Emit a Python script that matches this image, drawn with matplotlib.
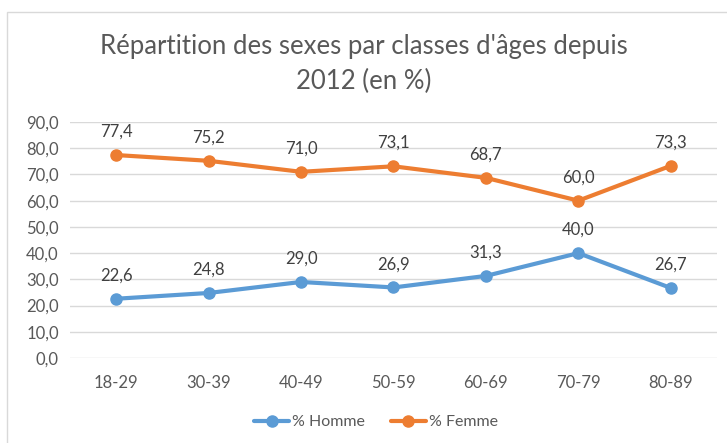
import numpy as np
import matplotlib.pyplot as plt
from matplotlib.patches import Rectangle

# Données
classes = ["18-29", "30-39", "40-49", "50-59", "60-69", "70-79", "80-89"]
homme = [22.6, 24.8, 29.0, 26.9, 31.3, 40.0, 26.7]
femme = [77.4, 75.2, 71.0, 73.1, 68.7, 60.0, 73.3]

plt.rcParams["font.family"] = ["Lato", "DejaVu Sans"]
W, H = 727, 443
fig = plt.figure(figsize=(W / 100, H / 100), dpi=100)

# cadre du graphique
fig.patches.append(Rectangle((7 / W, -0.1), 1.0, 1 - 12 / H + 0.1, transform=fig.transFigure,
                             fill=False, edgecolor="#d9d9d9", linewidth=1.0))

ax = fig.add_axes([70 / W, 1 - 358 / H, (717 - 70) / W, (358 - 122) / H])
x = np.arange(len(classes))
bleu = "#5b9bd5"
orange = "#ed7d31"
ax.plot(x, homme, color=bleu, lw=3, marker="o", ms=8, label="% Homme", solid_capstyle="round")
ax.plot(x, femme, color=orange, lw=3, marker="o", ms=8, label="% Femme", solid_capstyle="round")

for xi, v in zip(x, homme):
    ax.annotate(f"{v:.1f}".replace(".", ","), (xi, v), xytext=(0, 11), textcoords="offset points",
                ha="center", va="bottom", fontsize=12, color="#404040")
for xi, v in zip(x, femme):
    ax.annotate(f"{v:.1f}".replace(".", ","), (xi, v), xytext=(0, 11), textcoords="offset points",
                ha="center", va="bottom", fontsize=12, color="#404040")

ax.set_xlim(-0.5, len(classes) - 0.5)
ax.set_ylim(0, 90)
ax.set_yticks(np.arange(0, 91, 10))
ax.set_yticklabels([f"{t:.1f}".replace(".", ",") for t in np.arange(0, 91, 10)])
ax.set_xticks(x)
ax.set_xticklabels(classes)
ax.tick_params(length=0, labelsize=12, labelcolor="#595959")
ax.tick_params(axis="x", pad=12)
ax.tick_params(axis="y", pad=8)
ax.grid(axis="y", color="#d9d9d9", lw=1)
ax.set_axisbelow(True)
for s in ax.spines.values():
    s.set_visible(False)

fig.text(0.5, 1 - 64 / H, "Répartition des sexes par classes d'âges depuis\n2012 (en %)",
         ha="center", va="center", fontsize=18.5, color="#595959", linespacing=1.5)

fig.legend(loc="center", bbox_to_anchor=(376 / W, 1 - 422 / H), ncol=2, frameon=False,
           fontsize=11.5, labelcolor="#595959", handlelength=2.2, columnspacing=1.6,
           handletextpad=0.2)

fig.savefig("out.png", dpi=100)
